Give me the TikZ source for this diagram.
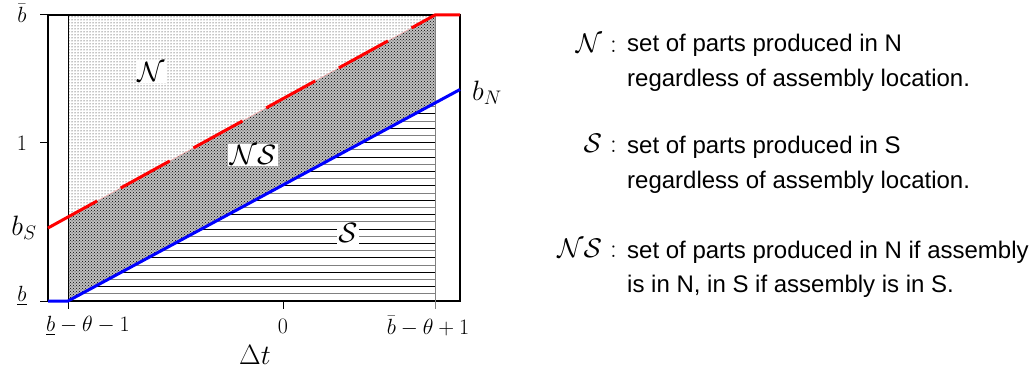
\documentclass[tikz,border=0pt]{standalone}
\usepackage{fix-cm}
\usepackage{amsmath}
\usepackage{fontspec}
\newfontfamily\legendfont{Liberation Sans}
\usetikzlibrary{patterns}
\tikzset{
  frame/.style={line width=1.3pt},
  tickline/.style={line width=1pt},
  ticklbl/.style={inner sep=0pt, font=\fontsize{22}{26}\selectfont},
  axislbl/.style={inner sep=0pt, font=\fontsize{28}{32}\selectfont},
  setlbl/.style={fill=white, inner sep=1.5pt, font=\fontsize{28}{32}\selectfont},
  legsym/.style={anchor=base east, inner sep=0pt, font=\fontsize{27}{30}\selectfont},
  legtxt/.style={anchor=base west, inner sep=0pt, align=left,
                 font=\legendfont\fontsize{24}{35}\selectfont},
  bound/.style={line width=3pt},
}

\begin{document}
\begin{tikzpicture}[x=1pt, y=-1pt,
  hatch/.style={line width=0.9pt}
]
  \useasboundingbox (0,0) rectangle (1033,371);
  % corners of the three regions
  \coordinate (tl) at (68,15);
  \coordinate (tr) at (435,15);
  \coordinate (bl) at (68,301);
  \coordinate (br) at (435,301);
  \coordinate (rl) at (68,217);
  \coordinate (bm) at (435,103.5);

  \fill[pattern=dots] (tl) -- (tr) -- (rl) -- cycle;
  \fill[gray!50] (rl) -- (tr) -- (bm) -- (bl) -- cycle;
  \fill[pattern=crosshatch dots] (rl) -- (tr) -- (bm) -- (bl) -- cycle;
  \begin{scope}
    \clip (bl) -- (bm) -- (br) -- cycle;
    \foreach \i in {1,...,28} {
      \pgfmathsetmacro{\c}{ifthenelse(mod(\i,2)==0,"black","gray")}
      \draw[hatch, \c] (68,301-7.2*\i) -- (435,301-7.2*\i);
    }
  \end{scope}

  % frame, inner edges and ticks
  \draw[frame] (48,15) rectangle (460,301);
  \draw[tickline] (68,15) -- (68,309);
  \draw[tickline, gray] (435,15) -- (435,309);
  \draw[tickline] (283,301) -- (283,309);
  \foreach \y in {15,143,301} \draw[tickline] (40,\y) -- (48,\y);

  % boundaries
  \coordinate (rs) at (48,228);
  \coordinate (re) at (460,15);
  \coordinate (bs) at (48,301);
  \coordinate (be) at (460,89.5);
  \draw[red!35, line width=0.5pt] (rs) -- (tr);
  \draw[bound, red, dash pattern=on 56pt off 27pt] (rs) -- (tr) -- (re);
  \draw[bound, blue] (bs) -- (bl) -- (be);

  % set labels
  \node[setlbl] (nN) at (151,72) {$\mathcal{N}$};
  \node[setlbl] (nNS) at (253,155) {$\mathcal{N}\mathcal{S}$};
  \node[setlbl] (nS) at (348,233) {$\mathcal{S}$};

  % axis labels
  \node[ticklbl] (ybar) at (22,13) {$\bar{b}$};
  \node[ticklbl] (yone) at (22,143) {$1$};
  \node[axislbl] (ybs) at (24,228) {$b_S$};
  \node[ticklbl] (ylow) at (22,296) {$\underline{b}$};
  \node[axislbl, anchor=west] (lbn) at (472,93) {$b_N$};
  \node[ticklbl] (xlow) at (88,326) {$\underline{b}-\theta-1$};
  \node[ticklbl] (xzero) at (283,326) {$0$};
  \node[ticklbl] (xbar) at (428,326) {$\bar{b}-\theta+1$};
  \node[axislbl] (dt) at (255,355) {$\Delta t$};

  % legend (base anchor sits on the last line)
  \node[legsym] (symN) at (617,53) {$\mathcal{N}$ :};
  \node[legtxt] (txtN) at (627,87) {set of parts produced in N\\regardless of assembly location.};
  \node[legsym] (symS) at (617,153) {$\mathcal{S}$ :};
  \node[legtxt] (txtS) at (627,189) {set of parts produced in S\\regardless of assembly location.};
  \node[legsym] (symNS) at (617,258) {$\mathcal{N}\mathcal{S}$ :};
  \node[legtxt] (txtNS) at (627,293) {set of parts produced in N if assembly\\is in N, in S if assembly is in S.};
\end{tikzpicture}
\end{document}
